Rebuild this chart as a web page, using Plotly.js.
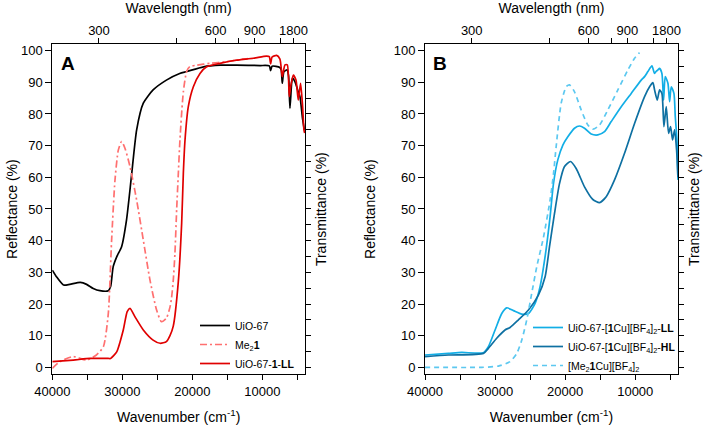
<!DOCTYPE html>
<html>
<head>
<meta charset="utf-8">
<script src="https://cdn.plot.ly/plotly-3.0.1.min.js"></script>
<style>html,body{margin:0;padding:0;background:#fff;}#chart{width:709px;height:425px;}</style>
</head>
<body>
<div id="chart"></div>
<script>
// ---------- Panel A data (wavenumber cm-1, reflectance %) ----------
const wnUiO67 = [40000,39400,38400,37500,36000,35100,34150,33200,32000,31670,31300,30800,30100,29400,28700,27950,27000,25600,23700,21800,20800,18400,16000,13700,10300,9000,8810,8600,7500,7300,7145,6900,6450,6250,6050,5800,5670,5340,4950,4620,4290,4000];
const rUiO67  = [30.7,28.6,26,26.2,26.8,26.2,24.9,24.2,24.2,25.5,31.8,34.9,38.1,46.5,60.2,75,83.4,87.6,90.7,92.8,93.4,94.9,95.4,95.4,95.3,95.2,93.7,95.1,94.7,94,89.7,93.4,93.9,92,81.8,90,91.3,90.2,87.6,85.5,79.2,75];

const wnMe21 = [40000,38900,37000,35100,33700,32700,32000,31530,31050,30570,30100,29620,28900,27950,27000,26050,25100,24400,23700,23190,22960,22700,22480,22230,22000,21760,21280,20800,20330,19380,17470,15100,13670,12000];
const rMe21  = [-0.3,1.8,3.4,2.3,3.9,6.5,17,40,59,68.6,71.3,69.2,63.4,52.8,40.2,27.6,18.1,14.4,15.5,19,22,28,36,50,61,72,87,93.5,95,95.4,96,96.5,97,97.5];

const wnLL1 = [40000,37000,34600,32000,31670,30800,29860,29300,28900,28200,27000,25600,24600,23700,23190,22720,22000,21520,21280,21040,20570,19850,18900,17950,16050,13700,11300,9400,9000,8810,8600,7950,7480,7145,6760,6430,6145,5955,5570,5190,4860,4530,4240,4050,3950];
const rLL1  = [1.8,2.3,2.8,2.8,2.8,4.9,11.8,17.6,18.6,16,11.8,8.6,7.6,8.1,10,13,27,45.5,61.3,71.8,82.3,88.6,92.8,94.9,96,97,97.6,98.3,98.1,95.8,98,98.5,97.3,91.8,95.5,95.5,85.5,88.6,92.3,90.7,84.4,89.7,82.3,75,74];

// ---------- Panel B data ----------
const wnCuLL = [40000,36670,34760,31670,30960,30000,29050,28340,27380,26190,25240,24290,23580,22860,22150,21670,21050,20330,19620,18670,17950,17240,16290,15335,14383,13430,12000,10575,9147,8670,8195,7624,7243,7005,6767,6530,6196,5958,5720,5339,5100,4862,4480,4290,4050,3910];
const rCuLL  = [3.9,4.4,4.7,4.6,6.5,11.8,17,18.8,17.9,16.8,17,20.2,25.5,35,47.6,58,65.5,70.2,72.8,75.5,76.2,75.5,73.7,73.4,74.4,77.6,82.3,86.5,90.7,91.8,93.4,95.2,92.8,93.5,93.9,94.4,92.8,84.4,91.8,89.7,83.9,88.6,86.5,79.2,71.8,59.2];

const wnCuHL = [40000,36670,31670,30960,29770,28580,27860,26670,25240,23820,22860,22240,21520,20810,20095,19240,18430,17240,16050,15100,14145,12955,11530,10100,8670,7957,7480,7243,6862,6530,6196,5910,5580,5244,4960,4670,4390,4100,3910];
const rCuHL  = [3.4,3.9,4.4,6,9.2,11.8,12.6,15,18.1,22.8,28.6,38,48.6,58,63.4,65,62.8,57,53,52,53.9,59.2,67.6,77,85.5,88.6,89.9,87.6,84.4,87.6,86.5,76,82.3,73.9,76,71.8,75,68.6,60];

const wnMeCu = [40000,31900,29530,27860,26900,26190,25480,24770,24050,23100,22150,21670,21285,20570,19857,19380,18667,17715,16760,16050,15100,13907,12480,11050,10100,9385];
const rMeCu  = [0,0,0.4,1.8,4.4,8.6,15,23.4,31.8,41,52.8,61,69.7,83.4,88.6,89.2,87,81.3,76.5,75.2,76.5,81.3,87.6,93.9,97.6,99.4];

// ---------- Axis tick labels ----------
const wlMajor = [300, 600, 900, 1800];   // nm, top axis labels
const wlMinor = [450, 750, 1350];        // nm, unlabeled top ticks
const xRange = [40000, 3900];
const yRange = [-2.2, 102.1];

const FONT = 'Liberation Sans, Arial, sans-serif';
const lineW = 1.7;
const sm = 0.6;

const traces = [
  {x: wnUiO67, y: rUiO67, name: 'UiO-67', type: 'scatter', mode: 'lines', xaxis: 'x', yaxis: 'y', legend: 'legend',
   line: {color: '#000000', width: lineW, shape: 'spline', smoothing: sm}},
  {x: wnMe21, y: rMe21, name: 'Me<sub>2</sub><b>1</b>', type: 'scatter', mode: 'lines', xaxis: 'x', yaxis: 'y', legend: 'legend',
   line: {color: '#FF7070', width: lineW, dash: '7px,3px,2px,3px', shape: 'spline', smoothing: sm}},
  {x: wnLL1, y: rLL1, name: 'UiO-67-<b>1</b>-<b>LL</b>', type: 'scatter', mode: 'lines', xaxis: 'x3', yaxis: 'y3', legend: 'legend',
   line: {color: '#E00000', width: lineW, shape: 'spline', smoothing: sm}},
  {x: wnCuLL, y: rCuLL, name: 'UiO-67-[<b>1</b>Cu][BF<sub>4</sub>]<sub>2</sub>-<b>LL</b>', type: 'scatter', mode: 'lines', xaxis: 'x2', yaxis: 'y2', legend: 'legend2',
   line: {color: '#12AEE6', width: lineW, shape: 'spline', smoothing: sm}},
  {x: wnCuHL, y: rCuHL, name: 'UiO-67-[<b>1</b>Cu][BF<sub>4</sub>]<sub>2</sub>-<b>HL</b>', type: 'scatter', mode: 'lines', xaxis: 'x2', yaxis: 'y2', legend: 'legend2',
   line: {color: '#0E70A2', width: lineW, shape: 'spline', smoothing: sm}},
  {x: wnMeCu, y: rMeCu, name: '[Me<sub>2</sub><b>1</b>Cu][BF<sub>4</sub>]<sub>2</sub>', type: 'scatter', mode: 'lines', xaxis: 'x4', yaxis: 'y4', legend: 'legend2',
   line: {color: '#5CC8F0', width: lineW, dash: '5px,4px', shape: 'spline', smoothing: sm}}
];

const domA = [52.3/709, 305/709];
const domB = [425/709, 678/709];
const domY = [(425-374.3)/425, (425-44)/425];

function bottomAxis(dom, anchor) {
  return {domain: dom, anchor: anchor, range: xRange, tickmode: 'linear', tick0: 0, dtick: 10000,
    tickformat: 'd', ticks: 'outside', ticklen: 5, tickwidth: 1, tickcolor: '#000',
    minor: {tickmode: 'linear', tick0: 5000, dtick: 10000, ticks: 'outside', ticklen: 5, tickwidth: 1, tickcolor: '#000'},
    showline: true, linecolor: '#000', linewidth: 1, showgrid: false, zeroline: false,
    tickfont: {size: 13, family: FONT}, title: {text: 'Wavenumber (cm<sup>-1</sup>)', font: {size: 14, family: FONT}, standoff: 15}};
}
function topAxis(over, anchor) {
  return {overlaying: over, side: 'top', anchor: anchor, range: xRange, tickmode: 'array',
    tickvals: wlMajor.map(w => 1e7 / w), ticktext: wlMajor.map(String),
    ticks: 'outside', ticklen: 5, tickwidth: 1, tickcolor: '#000', ticklabelstandoff: -2,
    minor: {tickmode: 'array', tickvals: wlMinor.map(w => 1e7 / w), ticks: 'outside', ticklen: 5, tickwidth: 1, tickcolor: '#000'},
    showline: true, linecolor: '#000', linewidth: 1, showgrid: false, zeroline: false,
    tickfont: {size: 13, family: FONT}, title: {text: 'Wavelength (nm)', font: {size: 14, family: FONT}, standoff: 8}};
}
function leftAxis(anchor, standoff) {
  return {domain: domY, anchor: anchor, range: yRange, tickmode: 'linear', tick0: 0, dtick: 10,
    ticks: 'outside', ticklen: 6, tickwidth: 1, tickcolor: '#000',
    showline: true, linecolor: '#000', linewidth: 1, showgrid: false, zeroline: false,
    tickfont: {size: 13, family: FONT}, title: {text: 'Reflectance (%)', font: {size: 14, family: FONT}, standoff: standoff}};
}
function rightAxis(over, anchor) {
  return {overlaying: over, side: 'right', anchor: anchor, range: yRange, tickmode: 'linear', tick0: 0, dtick: 5,
    ticks: 'outside', ticklen: 5, tickwidth: 1, tickcolor: '#000', showticklabels: false,
    showline: true, linecolor: '#000', linewidth: 1, showgrid: false, zeroline: false,
    title: {text: 'Transmittance (%)', font: {size: 14, family: FONT}, standoff: 6}};
}

const layout = {
  width: 709, height: 425,
  margin: {l: 0, r: 0, t: 0, b: 0},
  paper_bgcolor: '#ffffff', plot_bgcolor: '#ffffff',
  font: {family: FONT, size: 13, color: '#000'},
  showlegend: true,
  xaxis: bottomAxis(domA, 'y'),
  yaxis: leftAxis('x', 0),
  xaxis2: bottomAxis(domB, 'y2'),
  yaxis2: leftAxis('x2', 14),
  xaxis3: topAxis('x', 'y'),
  yaxis3: rightAxis('y', 'x'),
  xaxis4: topAxis('x2', 'y2'),
  yaxis4: rightAxis('y2', 'x2'),
  legend: {x: 195/709, y: (425-311)/425, xanchor: 'left', yanchor: 'top', bgcolor: 'rgba(0,0,0,0)',
    font: {size: 10.5, family: FONT}, tracegroupgap: 0, itemwidth: 30},
  legend2: {x: 528/709, y: (425-313)/425, xanchor: 'left', yanchor: 'top', bgcolor: 'rgba(0,0,0,0)',
    font: {size: 10.5, family: FONT}, tracegroupgap: 0, itemwidth: 30},
  annotations: [
    {text: '<b>A</b>', xref: 'x domain', yref: 'y domain', x: 0.025, y: 0.98, xanchor: 'left', yanchor: 'top', showarrow: false, font: {size: 19, family: FONT}},
    {text: '<b>B</b>', xref: 'x2 domain', yref: 'y2 domain', x: 0.025, y: 0.98, xanchor: 'left', yanchor: 'top', showarrow: false, font: {size: 19, family: FONT}}
  ]
};

Plotly.newPlot('chart', traces, layout, {staticPlot: true, displayModeBar: false});
</script>
</body>
</html>
